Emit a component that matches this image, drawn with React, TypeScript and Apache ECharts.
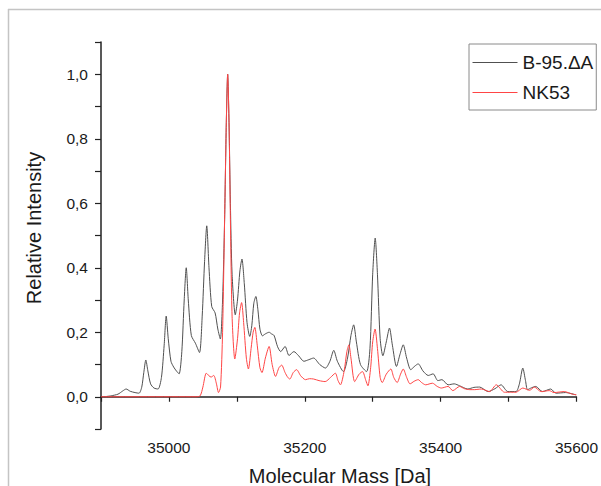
import React, { useEffect, useRef } from "react";
import * as echarts from "echarts";

const seriesNames = ["B-95.\u0394A", "NK53"];

const blackMass = [
  34905, 34915, 34925, 34932, 34937, 34943, 34950, 34956, 34960, 34963, 34966, 34969, 34973, 34978, 34984,
  34989, 34993, 34996, 34999, 35003, 35007, 35011, 35015, 35019, 35022.5, 35025.5, 35028.5, 35033, 35039,
  35045, 35049, 35052.5, 35055.7, 35059, 35063, 35068, 35072, 35075.7, 35079, 35082, 35084.5, 35086.5,
  35088.5, 35090.5, 35093, 35097.7, 35101, 35104.5, 35107.5, 35111, 35115, 35119, 35122, 35125, 35128,
  35131, 35134, 35137.7, 35142, 35147.5, 35151, 35154.8, 35160, 35164.6, 35171, 35176.8, 35184, 35191,
  35198.7, 35206, 35213, 35222, 35230.5, 35237, 35242.7, 35248, 35257, 35263, 35268, 35272, 35276, 35282,
  35291, 35296, 35300, 35303.7, 35307, 35311, 35315, 35320, 35324.7, 35329, 35335, 35340, 35345, 35350,
  35356, 35362, 35367, 35374, 35381.8, 35389, 35396, 35402, 35411, 35420, 35428, 35440, 35449, 35457.5,
  35470, 35480, 35489, 35499, 35511, 35516, 35521, 35525, 35528, 35534, 35540, 35550, 35562, 35570, 35584,
  35599,
];
const blackIntensity = [
  0.0, 0.003, 0.008, 0.018, 0.024, 0.017, 0.013, 0.011, 0.03, 0.075, 0.114, 0.08, 0.04, 0.027, 0.024,
  0.06, 0.16, 0.25, 0.18, 0.11, 0.092, 0.08, 0.071, 0.14, 0.3, 0.4, 0.3, 0.19, 0.166,
  0.137, 0.25, 0.42, 0.53, 0.4, 0.28, 0.26, 0.21, 0.179, 0.3, 0.55, 0.85, 1.0,
  0.85, 0.6, 0.38, 0.254, 0.3, 0.39, 0.427, 0.35, 0.23, 0.187, 0.22, 0.29, 0.311,
  0.27, 0.21, 0.189, 0.195, 0.2, 0.195, 0.19, 0.155, 0.14, 0.156, 0.128, 0.14, 0.127,
  0.11, 0.115, 0.12, 0.1, 0.089, 0.11, 0.144, 0.11, 0.078, 0.12, 0.19, 0.223, 0.17, 0.1,
  0.078, 0.15, 0.38, 0.492, 0.38, 0.18, 0.127, 0.17, 0.213, 0.16, 0.094, 0.13, 0.161, 0.12,
  0.084, 0.095, 0.102, 0.08, 0.066, 0.071, 0.05, 0.053, 0.037, 0.04, 0.034, 0.024, 0.029, 0.03,
  0.016, 0.025, 0.037, 0.016, 0.016, 0.04, 0.089, 0.05, 0.022, 0.028, 0.032, 0.016, 0.024, 0.011, 0.013,
  0.006,
];

const redMass = [
  34900, 35040, 35046, 35050, 35055, 35059, 35062, 35066, 35070, 35073, 35076, 35079, 35082, 35084.5,
  35086.5, 35088.5, 35090.5, 35093, 35097, 35101, 35104, 35107, 35110, 35114, 35117, 35121, 35124,
  35126.5, 35130, 35134, 35137, 35142, 35147.5, 35152, 35157, 35162, 35166, 35171, 35175, 35178, 35183,
  35188, 35194, 35201, 35207, 35213, 35221, 35230, 35238, 35245, 35249, 35252.5, 35258, 35262, 35265,
  35268, 35273.5, 35280, 35285, 35290, 35293, 35297, 35300, 35303.5, 35307, 35311, 35314, 35320,
  35326.7, 35331, 35336, 35341, 35345, 35350, 35355, 35361, 35367, 35372, 35378, 35388, 35395, 35401,
  35411, 35418, 35428, 35435, 35443, 35450, 35460, 35472, 35482, 35494, 35503, 35511, 35521, 35531,
  35538, 35548, 35560, 35567, 35582, 35594, 35600,
];
const redIntensity = [
  0, 0, 0.003, 0.03, 0.073, 0.065, 0.061, 0.066, 0.04, 0.013, 0.03, 0.2, 0.55, 0.85,
  1.0, 0.85, 0.55, 0.25, 0.117, 0.18, 0.26, 0.292, 0.23, 0.12, 0.086, 0.15, 0.2,
  0.215, 0.16, 0.09, 0.075, 0.12, 0.156, 0.1, 0.063, 0.09, 0.098, 0.075, 0.06, 0.055, 0.075,
  0.084, 0.065, 0.053, 0.056, 0.055, 0.05, 0.047, 0.06, 0.073, 0.05, 0.037, 0.08, 0.14, 0.161,
  0.12, 0.047, 0.07, 0.078, 0.05, 0.034, 0.09, 0.17, 0.21, 0.15, 0.06, 0.044, 0.07,
  0.086, 0.06, 0.044, 0.07, 0.086, 0.06, 0.04, 0.048, 0.053, 0.044, 0.037, 0.042, 0.032, 0.027,
  0.032, 0.019, 0.032, 0.025, 0.022, 0.022, 0.024, 0.016, 0.037, 0.014, 0.014, 0.014, 0.027, 0.02,
  0.03, 0.016, 0.019, 0.013, 0.016, 0.008, 0.006,
];

const xLabelValues = [35000, 35200, 35400, 35600];
const yLabelValues = [0, 0.2, 0.4, 0.6, 0.8, 1.0];

const FONT = "'Liberation Sans', Arial, sans-serif";
const BLACK = "#505050";
const RED = "#ff4545";

function zip(a: number[], b: number[]) {
  return a.map((v, i) => [v, b[i]]);
}

export default function App() {
  const ref = useRef<HTMLDivElement>(null);
  useEffect(() => {
    if (!ref.current) return;
    const chart = echarts.init(ref.current, undefined, { renderer: "svg" });
    chart.setOption({
      animation: false,
      backgroundColor: "#ffffff",
      grid: { left: 101, right: 22, top: 42, bottom: 57 },
      legend: {
        left: 469,
        top: 44,
        orient: "vertical",
        itemWidth: 45,
        itemHeight: 14,
        itemGap: 11,
        padding: [9, 3, 8, 3],
        borderColor: "#8a8a8a",
        borderWidth: 1,
        backgroundColor: "#ffffff",
        itemStyle: { opacity: 0 },
        lineStyle: { width: 1 },
        textStyle: { fontFamily: FONT, fontSize: 19, color: "#1a1a1a" },
        data: seriesNames,
      },
      xAxis: {
        type: "value",
        min: 34900,
        max: 35600,
        interval: 100,
        splitLine: { show: false },
        axisLine: { show: true, lineStyle: { color: "#222", width: 1.5 } },
        axisTick: { show: true, inside: false, length: 5, lineStyle: { color: "#222", width: 1.2 } },
        axisLabel: {
          margin: 10,
          fontFamily: FONT,
          fontSize: 15.5,
          color: "#1a1a1a",
          formatter: (v: number) => (xLabelValues.includes(Math.round(v)) ? String(Math.round(v)) : ""),
        },
      },
      yAxis: {
        type: "value",
        min: -0.1,
        max: 1.1,
        interval: 0.1,
        splitLine: { show: false },
        axisLine: { show: true, lineStyle: { color: "#222", width: 1.5 } },
        axisTick: { show: true, inside: false, length: 6, lineStyle: { color: "#222", width: 1.2 } },
        axisLabel: {
          margin: 13,
          fontFamily: FONT,
          fontSize: 15.5,
          color: "#1a1a1a",
          formatter: (v: number) => {
            const r = Math.round(v * 10) / 10;
            return yLabelValues.some((t) => Math.abs(t - r) < 1e-6) ? r.toFixed(1).replace(".", ",") : "";
          },
        },
      },
      series: [
        {
          name: seriesNames[0],
          type: "line",
          symbol: "none",
          smooth: 0.25,
          lineStyle: { color: BLACK, width: 1 },
          itemStyle: { color: BLACK },
          data: zip(blackMass, blackIntensity),
          z: 2,
        },
        {
          name: seriesNames[1],
          type: "line",
          symbol: "none",
          smooth: 0.25,
          lineStyle: { color: RED, width: 1 },
          itemStyle: { color: RED },
          data: zip(redMass, redIntensity),
          z: 3,
        },
      ],
      graphic: [
        { type: "line", shape: { x1: 8, y1: 9.5, x2: 601, y2: 9.5 }, style: { stroke: "#c4c4c4", lineWidth: 1.5 } },
        { type: "line", shape: { x1: 8.5, y1: 9, x2: 8.5, y2: 486 }, style: { stroke: "#c4c4c4", lineWidth: 1.5 } },
        {
          type: "text",
          x: 34,
          y: 228,
          rotation: Math.PI / 2,
          style: {
            text: "Relative Intensity",
            font: `20px ${FONT}`,
            fill: "#1a1a1a",
            textAlign: "center",
            textVerticalAlign: "middle",
          },
        },
        {
          type: "text",
          x: 340,
          y: 476,
          style: {
            text: "Molecular Mass [Da]",
            font: `20px ${FONT}`,
            fill: "#1a1a1a",
            textAlign: "center",
            textVerticalAlign: "middle",
          },
        },
      ],
    });
    return () => chart.dispose();
  }, []);
  return (
    <div
      ref={ref}
      style={{ position: "fixed", left: 0, top: 0, width: 601, height: 486 }}
    />
  );
}
